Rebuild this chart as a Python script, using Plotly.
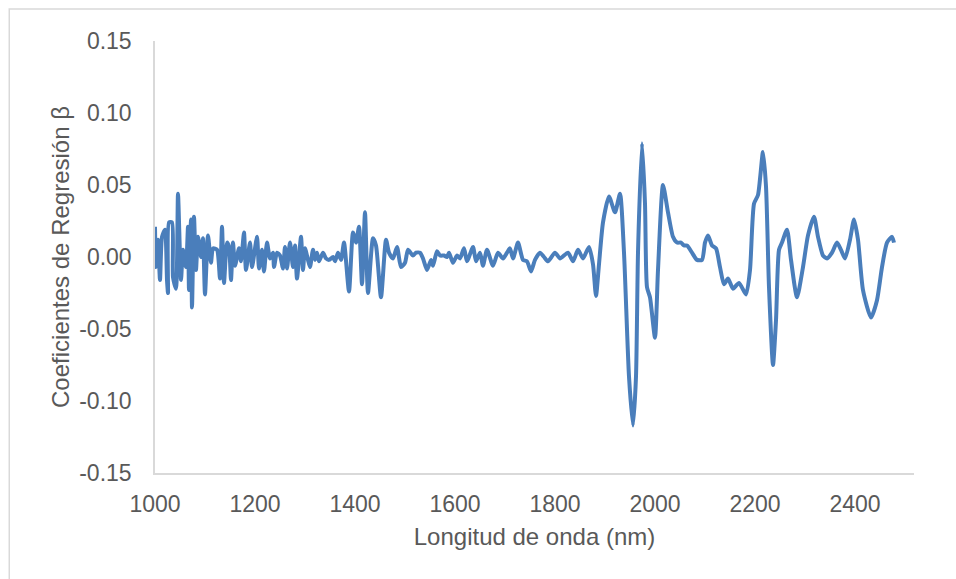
import plotly.graph_objects as go

# Regression coefficients (beta) against wavelength
wavelength_nm = [
    1000, 1002, 1006, 1010, 1014, 1020, 1024, 1026, 1028, 1034, 1036, 1042, 1046, 1052,
    1056, 1062, 1066, 1068, 1072, 1074, 1078, 1082, 1086, 1092, 1096, 1100, 1106, 1112,
    1116, 1124, 1130, 1134, 1138, 1144, 1148, 1152, 1156, 1160, 1168, 1172, 1178, 1182,
    1190, 1194, 1204, 1208, 1214, 1218, 1224, 1230, 1236, 1238, 1244, 1250, 1256, 1260,
    1264, 1270, 1276, 1280, 1284, 1292, 1296, 1300, 1306, 1310, 1316, 1320, 1324, 1328,
    1336, 1342, 1348, 1356, 1360, 1366, 1372, 1378, 1388, 1396, 1402, 1408, 1414, 1420,
    1426, 1436, 1442, 1452, 1462, 1468, 1476, 1484, 1492, 1500, 1506, 1516, 1522, 1530,
    1536, 1544, 1552, 1556, 1564, 1570, 1578, 1584, 1588, 1596, 1604, 1610, 1618, 1624,
    1636, 1642, 1650, 1656, 1664, 1676, 1686, 1696, 1704, 1710, 1716, 1726, 1736, 1744,
    1752, 1760, 1770, 1778, 1786, 1800, 1810, 1826, 1836, 1846, 1856, 1868, 1876, 1882,
    1888, 1896, 1908, 1920, 1930, 1938, 1948, 1956, 1962, 1966, 1974, 1980, 1984, 1990,
    2000, 2006, 2016, 2026, 2036, 2044, 2052, 2058, 2064, 2074, 2084, 2094, 2100, 2106,
    2114, 2122, 2130, 2138, 2146, 2156, 2168, 2182, 2190, 2198, 2206, 2216, 2222, 2228,
    2236, 2242, 2248, 2254, 2264, 2272, 2284, 2296, 2306, 2318, 2326, 2336, 2344, 2354,
    2364, 2372, 2380, 2390, 2398, 2406, 2416, 2432, 2444, 2454, 2464, 2474, 2478,
]

beta = [
    0.021, -0.007, 0.012, -0.016, 0.014, 0.019, -0.016, -0.025, 0.024, 0.024, -0.014, -0.022, 0.044, -0.016,
    0.005, -0.007, 0.021, -0.023, 0.026, -0.035, 0.028, -0.009, 0.014, 0.000, 0.013, -0.026, 0.015, -0.004,
    0.006, 0.005, -0.015, 0.021, -0.018, 0.010, 0.007, -0.016, 0.010, -0.006, 0.006, -0.003, 0.017, -0.009,
    0.010, -0.007, 0.014, -0.008, 0.005, -0.010, 0.010, -0.001, 0.003, -0.007, 0.003, 0.001, -0.008, 0.007,
    -0.008, 0.010, -0.007, 0.008, -0.015, 0.014, -0.009, 0.006, -0.002, -0.007, 0.005, -0.002, 0.003, -0.003,
    0.003, -0.001, -0.002, 0.000, -0.003, 0.003, -0.002, 0.010, -0.024, 0.017, 0.010, 0.021, -0.019, 0.031,
    -0.025, 0.013, 0.008, -0.028, 0.012, 0.003, -0.001, 0.007, -0.007, -0.004, 0.005, 0.001, 0.003, 0.003,
    -0.001, -0.009, -0.002, -0.006, 0.004, 0.001, 0.001, 0.000, 0.003, -0.004, 0.001, -0.001, 0.006, -0.003,
    0.007, -0.003, 0.003, -0.006, 0.005, -0.006, 0.003, -0.001, 0.003, 0.006, -0.001, 0.010, -0.002, -0.003,
    -0.010, -0.002, 0.003, 0.000, -0.003, 0.003, -0.001, 0.003, -0.003, 0.005, -0.001, 0.007, -0.005, -0.027,
    -0.005, 0.024, 0.042, 0.031, 0.044, 0.003, -0.083, -0.117, -0.083, 0.003, 0.079, 0.037, -0.021, -0.028,
    -0.056, -0.009, 0.050, 0.031, 0.014, 0.010, 0.010, 0.008, 0.008, 0.003, -0.002, -0.002, 0.010, 0.015,
    0.008, 0.006, -0.007, -0.019, -0.015, -0.022, -0.018, -0.026, -0.009, 0.037, 0.043, 0.073, 0.049, -0.021,
    -0.075, -0.044, 0.005, 0.010, 0.019, -0.002, -0.028, -0.007, 0.015, 0.028, 0.014, 0.001, -0.001, 0.003,
    0.010, 0.005, -0.001, 0.012, 0.026, 0.012, -0.023, -0.042, -0.030, -0.007, 0.010, 0.014, 0.010,
]

x_ticks = [1000, 1200, 1400, 1600, 1800, 2000, 2200, 2400]
y_ticks = [-0.15, -0.10, -0.05, 0.00, 0.05, 0.10, 0.15]

FONT = "Liberation Sans, Arial, sans-serif"
TEXT = "#595959"
AXIS = "#d9d9d9"

fig = go.Figure(
    go.Scatter(
        x=wavelength_nm,
        y=beta,
        mode="lines",
        line=dict(color="#4a7ebb", width=4, shape="spline", smoothing=0.6),
        showlegend=False,
        hoverinfo="x+y",
    )
)

fig.update_layout(
    width=956,
    height=579,
    margin=dict(l=155, r=42, t=41, b=106),
    paper_bgcolor="white",
    plot_bgcolor="white",
    font=dict(family=FONT, size=23, color=TEXT),
    shapes=[
        dict(
            type="rect", xref="paper", yref="paper",
            x0=-0.192, x1=1.07, y0=-0.27, y1=1.074,
            line=dict(color=AXIS, width=1.5), fillcolor="rgba(0,0,0,0)",
            layer="below",
        )
    ],
)

fig.update_xaxes(
    range=[1000, 2518],
    tickvals=x_ticks,
    ticktext=[str(v) for v in x_ticks],
    showgrid=False,
    zeroline=False,
    showline=True,
    linecolor=AXIS,
    linewidth=1.5,
    ticks="",
    ticklabelstandoff=10,
    tickfont=dict(size=23, color=TEXT),
    title=dict(text="Longitud de onda (nm)", font=dict(size=24, color=TEXT), standoff=12),
)

fig.update_yaxes(
    range=[-0.15, 0.15],
    tickvals=y_ticks,
    ticktext=[f"{v:.2f}" for v in y_ticks],
    showgrid=False,
    zeroline=False,
    showline=True,
    linecolor=AXIS,
    linewidth=1.5,
    ticks="",
    ticklabelstandoff=17,
    tickfont=dict(size=23, color=TEXT),
    title=dict(text="Coeficientes de Regresión β", font=dict(size=24, color=TEXT), standoff=3),
)

fig.write_html("out.html")
